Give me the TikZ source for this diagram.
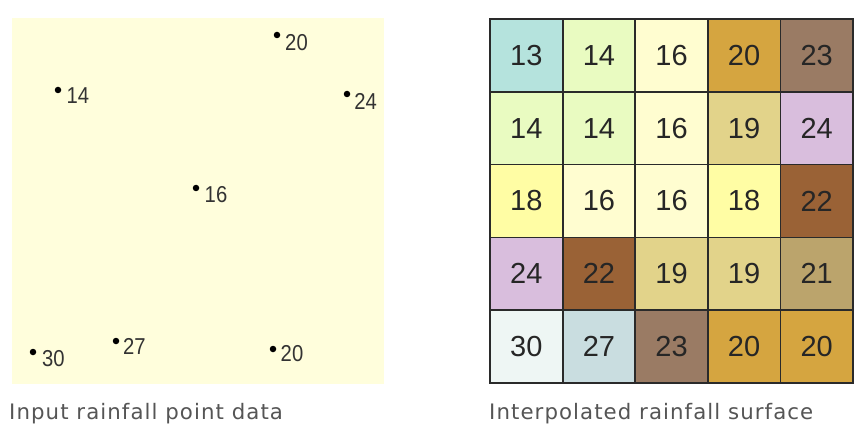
\documentclass[tikz,border=0pt]{standalone}
\usepackage{fontspec}
\newfontfamily\arialf{Liberation Sans}
\newfontfamily\capf[LetterSpace=5]{DejaVu Sans}
\definecolor{panelbg}{HTML}{FFFEDC}
\definecolor{cA}{HTML}{B5E3DD}
\definecolor{cB}{HTML}{E9FBC1}
\definecolor{cC}{HTML}{FFFDD0}
\definecolor{cD}{HTML}{D5A540}
\definecolor{cE}{HTML}{9A7B64}
\definecolor{cF}{HTML}{E2D38A}
\definecolor{cG}{HTML}{D9BEDD}
\definecolor{cH}{HTML}{FFFDA4}
\definecolor{cI}{HTML}{9A6236}
\definecolor{cJ}{HTML}{BBA46C}
\definecolor{cK}{HTML}{EEF6F4}
\definecolor{cL}{HTML}{C9DDE0}
\definecolor{gridline}{HTML}{2A2A2A}
\definecolor{labgray}{HTML}{333333}
\definecolor{capgray}{HTML}{555555}
\begin{document}
\begin{tikzpicture}[x=1pt,y=-1pt,
  cell/.style={draw=gridline, line width=1.8pt, minimum width=72.6pt, minimum height=72.8pt,
    inner sep=0pt, outer sep=0pt, font=\arialf\fontsize{29}{29}\selectfont, text=black!85},
  dot/.style={circle, fill=black, inner sep=0pt, minimum size=6.5pt},
  ptlab/.style={font=\arialf\fontsize{23}{23}\selectfont, text=labgray, inner sep=0pt, xscale=0.88},
  caption/.style={font=\capf\fontsize{21.3}{21.3}\selectfont, text=capgray, inner sep=0pt, anchor=base west}]
\useasboundingbox (0,0) rectangle (866,438);
\fill[white] (0,0) rectangle (866,438);
% left panel
\node[fill=panelbg, inner sep=0pt, outer sep=0pt, minimum width=372pt, minimum height=366pt, anchor=north west] (panel) at (12,18) {};
\node[dot] (p1) at (277,35) {};
\node[dot] (p2) at (58,90) {};
\node[dot] (p3) at (347,94) {};
\node[dot] (p4) at (196,188) {};
\node[dot] (p5) at (33,352) {};
\node[dot] (p6) at (116,341) {};
\node[dot] (p7) at (273,349) {};
\node[ptlab] (l1) at (296.5,43) {20};
\node[ptlab] (l2) at (78,96) {14};
\node[ptlab] (l3) at (365.5,101.5) {24};
\node[ptlab] (l4) at (216,195) {16};
\node[ptlab] (l5) at (53.5,359) {30};
\node[ptlab] (l6) at (134.5,346) {27};
\node[ptlab] (l7) at (292,354) {20};
% grid
\foreach \r/\row in {1/{cA/13,cB/14,cC/16,cD/20,cE/23},
                     2/{cB/14,cB/14,cC/16,cF/19,cG/24},
                     3/{cH/18,cC/16,cC/16,cH/18,cI/22},
                     4/{cG/24,cI/22,cF/19,cF/19,cJ/21},
                     5/{cK/30,cL/27,cE/23,cD/20,cD/20}}{
  \foreach \col/\v [count=\c] in \row {
    \node[cell, fill=\col] (g\r\c) at ({490+72.6*(\c-0.5)},{19+72.8*(\r-0.5)}) {\raisebox{-2.5pt}{\v}};
  }
}
\draw[gridline, line width=1.8pt] (g11.north west) rectangle (g55.south east);
% captions
\node[caption] (cap1) at (9,419) {Input rainfall point data};
\node[caption] (cap2) at (489,419) {Interpolated rainfall surface};
\end{tikzpicture}
\end{document}
